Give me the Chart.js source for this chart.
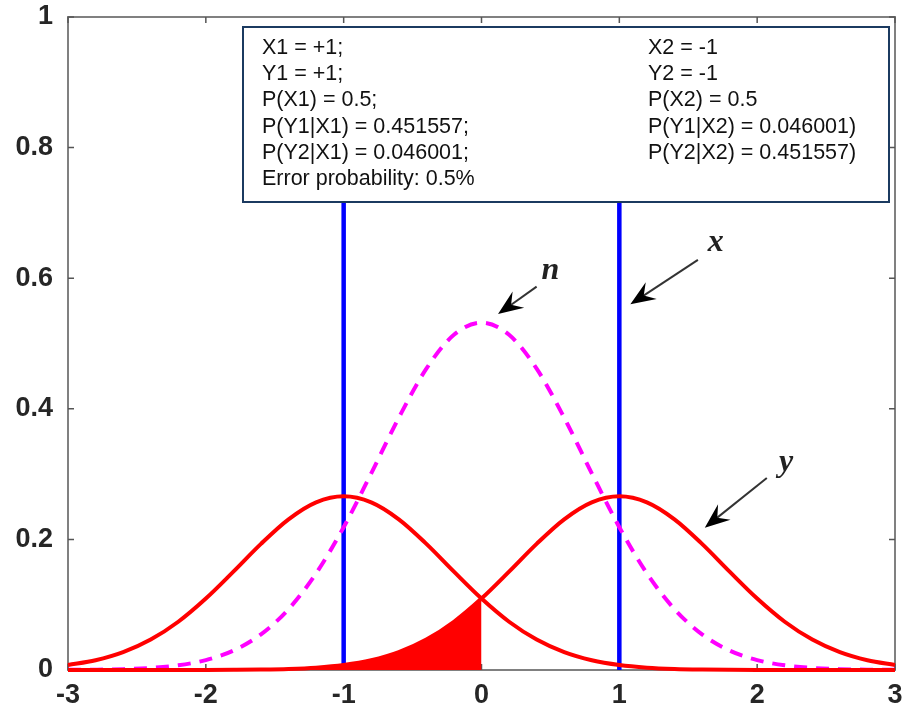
<!DOCTYPE html>
<html>
<head>
<meta charset="utf-8">
<script src="https://cdn.jsdelivr.net/npm/chart.js@4"></script>
<style>
  body { margin: 0; background: #fff; }
  #wrap { width: 907px; height: 718px; position: relative; }
</style>
</head>
<body>
<div id="wrap"><canvas id="chart"></canvas></div>
<script>
// ===============================
// Data
// ===============================
const xs = [-3,-2.8,-2.6,-2.4,-2.2,-2,-1.8,-1.6,-1.4,-1.2,-1,-0.8,-0.6,-0.4,-0.2,0,
            0.2,0.4,0.6,0.8,1,1.2,1.4,1.6,1.8,2,2.2,2.4,2.6,2.8,3];

// noise density n (dashed)
const nVals = [0.0002,0.0005,0.0013,0.0032,0.0072,0.0152,0.0298,0.0546,0.0932,0.1479,0.2187,
               0.3012,0.3863,0.4615,0.5134,0.532,0.5134,0.4615,0.3863,0.3012,0.2187,
               0.1479,0.0932,0.0546,0.0298,0.0152,0.0072,0.0032,0.0013,0.0005,0.0002];

// received signal y, sent X2 = -1
const yMinusVals = [0.0076,0.0149,0.0273,0.0466,0.0739,0.1094,0.1506,0.1931,0.2307,0.2567,0.266,
                    0.2567,0.2307,0.1931,0.1506,0.1094,0.0739,0.0466,0.0273,0.0149,0.0076,
                    0.0036,0.0016,0.0007,0.0003,0.0001,0,0,0,0,0];

// received signal y, sent X1 = +1
const yPlusVals = [0,0,0,0,0,0.0001,0.0003,0.0007,0.0016,0.0036,0.0076,
                   0.0149,0.0273,0.0466,0.0739,0.1094,0.1506,0.1931,0.2307,0.2567,0.266,
                   0.2567,0.2307,0.1931,0.1506,0.1094,0.0739,0.0466,0.0273,0.0149,0.0076];

// transmitted symbols x (vertical lines)
const symbolX = [-1, 1];
const symbolTop = 0.9;

const xTicks = [-3,-2,-1,0,1,2,3];
const yTicks = [0,0.2,0.4,0.6,0.8,1];

const infoLeft = ["X1 = +1;", "Y1 = +1;", "P(X1) = 0.5;", "P(Y1|X1) = 0.451557;",
                  "P(Y2|X1) = 0.046001;", "Error probability: 0.5%"];
const infoRight = ["X2 = -1", "Y2 = -1", "P(X2) = 0.5", "P(Y1|X2) = 0.046001)",
                   "P(Y2|X2) = 0.451557)"];

const pts = vals => xs.map((x,i)=>({x:x, y:vals[i]}));
// shaded error region: the +1 curve left of the threshold at 0
const errorPts = xs.map((x,i)=>({x:x, y: x <= 0 ? yPlusVals[i] : null}));

// ===============================
// Frame, ticks, info box, arrows
// ===============================
const framePlugin = {
    id: "frame",
    beforeDatasetsDraw(chart){
        const {ctx, chartArea:a, scales:{x, y}} = chart;
        ctx.save();
        ctx.strokeStyle = "#808080";
        ctx.lineWidth = 2;
        ctx.strokeRect(a.left, a.top, a.right-a.left, a.bottom-a.top);
        ctx.lineWidth = 1.5;
        ctx.strokeStyle = "#555";
        ctx.beginPath();
        xTicks.forEach(v=>{
            const px = x.getPixelForValue(v);
            ctx.moveTo(px, a.bottom); ctx.lineTo(px, a.bottom-6);
            ctx.moveTo(px, a.top); ctx.lineTo(px, a.top+6);
        });
        yTicks.forEach(v=>{
            const py = y.getPixelForValue(v);
            ctx.moveTo(a.left, py); ctx.lineTo(a.left+6, py);
            ctx.moveTo(a.right, py); ctx.lineTo(a.right-6, py);
        });
        ctx.stroke();
        ctx.restore();
    },
    afterDatasetsDraw(chart){
        const {ctx, scales:{x, y}} = chart;
        ctx.save();

        // info box
        const bx = 243, by = 27, bw = 646, bh = 175;
        ctx.fillStyle = "#fff";
        ctx.fillRect(bx, by, bw, bh);
        ctx.strokeStyle = "#1b3a60";
        ctx.lineWidth = 2;
        ctx.strokeRect(bx, by, bw, bh);
        ctx.fillStyle = "#111";
        ctx.font = "21.5px 'Liberation Sans', Arial, sans-serif";
        ctx.textBaseline = "middle";
        ctx.textAlign = "left";
        infoLeft.forEach((t,i)=> ctx.fillText(t, 262, 48 + i*26.2));
        infoRight.forEach((t,i)=> ctx.fillText(t, 648, 48 + i*26.2));

        // arrows with labels
        const arrows = [
            {label:"n", tail:[0.40,0.587], tip:[0.12,0.545], at:[0.50,0.612]},
            {label:"x", tail:[1.57,0.628], tip:[1.08,0.560], at:[1.70,0.655]},
            {label:"y", tail:[2.07,0.294], tip:[1.62,0.218], at:[2.21,0.318]}
        ];
        arrows.forEach(a=>{
            const x0 = x.getPixelForValue(a.tail[0]), y0 = y.getPixelForValue(a.tail[1]);
            const x1 = x.getPixelForValue(a.tip[0]),  y1 = y.getPixelForValue(a.tip[1]);
            const ang = Math.atan2(y1-y0, x1-x0);
            ctx.strokeStyle = "#333";
            ctx.lineWidth = 2;
            ctx.beginPath();
            ctx.moveTo(x0, y0);
            ctx.lineTo(x1 - 14*Math.cos(ang), y1 - 14*Math.sin(ang));
            ctx.stroke();
            // notched head
            const L = 25, W = 10, N = 16;
            const c = Math.cos(ang), s = Math.sin(ang);
            ctx.fillStyle = "#000";
            ctx.beginPath();
            ctx.moveTo(x1, y1);
            ctx.lineTo(x1 - L*c + W*s, y1 - L*s - W*c);
            ctx.lineTo(x1 - N*c, y1 - N*s);
            ctx.lineTo(x1 - L*c - W*s, y1 - L*s + W*c);
            ctx.closePath();
            ctx.fill();
            ctx.font = "bold italic 32px 'Liberation Serif', 'DejaVu Serif', serif";
            ctx.fillStyle = "#222";
            ctx.textAlign = "center";
            ctx.fillText(a.label, x.getPixelForValue(a.at[0]), y.getPixelForValue(a.at[1]));
        });
        ctx.restore();
    }
};

// ===============================
// Chart
// ===============================
const tickFont = {family:"'Liberation Sans', Arial, sans-serif", size:27, weight:"bold"};

const datasets = [
    {
        data: errorPts,
        borderWidth: 0,
        backgroundColor: "#ff0000",
        fill: "origin",
        pointRadius: 0,
        cubicInterpolationMode: "monotone"
    },
    {
        data: pts(yMinusVals),
        borderColor: "#ff0000",
        borderWidth: 4,
        pointRadius: 0,
        fill: false,
        clip: false,
        cubicInterpolationMode: "monotone"
    },
    {
        data: pts(yPlusVals),
        borderColor: "#ff0000",
        borderWidth: 4,
        pointRadius: 0,
        fill: false,
        clip: false,
        cubicInterpolationMode: "monotone"
    },
    {
        data: pts(nVals),
        borderColor: "#ff00ff",
        borderWidth: 4,
        borderDash: [13,9],
        pointRadius: 0,
        fill: false,
        cubicInterpolationMode: "monotone"
    }
];
symbolX.forEach(v=>{
    datasets.push({
        data: [{x:v, y:0}, {x:v, y:symbolTop}],
        borderColor: "#0000ff",
        borderWidth: 4.5,
        pointRadius: 0,
        fill: false
    });
});

new Chart(document.getElementById("chart"), {
    type: "line",
    data: { datasets },
    options: {
        responsive: true,
        maintainAspectRatio: false,
        animation: false,
        layout: { padding: {top:17, right:12, left:0, bottom:0} },
        plugins: { legend:{display:false}, tooltip:{enabled:false} },
        scales: {
            x: {
                type: "linear", min: -3, max: 3,
                grid: {display:false, tickLength:0}, border: {display:false},
                afterBuildTicks: s => { s.ticks = xTicks.map(v=>({value:v})); },
                ticks: {font: tickFont, color: "#262626", padding: 9, maxRotation: 0},
                afterFit: s => { s.height = 48; s.paddingLeft = 0; s.paddingRight = 0; }
            },
            y: {
                min: 0, max: 1,
                grid: {display:false, tickLength:0}, border: {display:false},
                afterBuildTicks: s => { s.ticks = yTicks.map(v=>({value:v})); },
                ticks: {font: tickFont, color: "#262626", padding: 15,
                        callback: v => String(+v.toFixed(1))},
                afterFit: s => { s.width = 68; s.paddingTop = 0; s.paddingBottom = 0; }
            }
        }
    },
    plugins: [framePlugin]
});
</script>
</body>
</html>
